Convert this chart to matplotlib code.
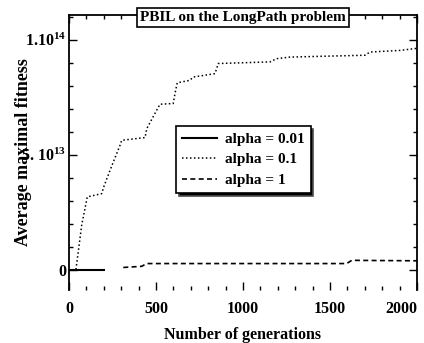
import matplotlib
matplotlib.use("Agg")
import matplotlib.pyplot as plt
from matplotlib.ticker import MultipleLocator, FixedLocator

plt.rcParams['font.family'] = ['Liberation Serif', 'DejaVu Serif']
plt.rcParams['font.weight'] = 'bold'
plt.rcParams['mathtext.default'] = 'regular'

# alpha = 0.01 (solid)
gen_a001 = [0, 199]
fit_a001 = [0.0, 0.0]

# alpha = 0.1 (dotted), values in units of 1e13
gen_a01 = [40, 73, 105, 188, 200, 236, 293, 303, 437, 447, 504, 523, 599, 609, 622,
           695, 713, 839, 858, 1155, 1193, 1270, 1701, 1730, 1902, 2000]
fit_a01 = [0.0, 1.93, 3.16, 3.3, 3.6, 4.32, 5.4, 5.62, 5.74, 6.13, 6.93, 7.19, 7.22, 7.65, 8.12,
           8.23, 8.37, 8.52, 8.96, 9.03, 9.17, 9.24, 9.32, 9.46, 9.53, 9.62]

# alpha = 1 (dashed), values in units of 1e13
gen_a1 = [312, 418, 446, 1596, 1625, 2000]
fit_a1 = [0.09, 0.14, 0.26, 0.26, 0.40, 0.38]

ytick_vals = [0, 5e13, 1e14]
ytick_labels = ['0', '5. 10$^{13}$', '1.10$^{14}$']
xtick_vals = [0, 500, 1000, 1500, 2000]

fig = plt.figure(figsize=(4.24, 3.43), dpi=100)
ax = fig.add_axes([69/424, 1-290/343, 348/424, 275/343])

scale = 1e13
ax.plot(gen_a001, [v*scale for v in fit_a001], color='black', lw=1.5, ls='-', label='alpha = 0.01')
ax.plot(gen_a01, [v*scale for v in fit_a01], color='black', lw=1.1, ls=(0, (1, 1.6)), label='alpha = 0.1')
ax.plot(gen_a1, [v*scale for v in fit_a1], color='black', lw=1.2, ls=(0, (3, 2)), label='alpha = 1')

ax.set_xlim(0, 2000)
ax.set_ylim(-0.89e13, 1.107e14)
ax.xaxis.set_major_locator(FixedLocator(xtick_vals))
ax.xaxis.set_minor_locator(MultipleLocator(100))
ax.yaxis.set_major_locator(FixedLocator(ytick_vals))
ax.yaxis.set_minor_locator(MultipleLocator(1e13))
ax.set_yticklabels(ytick_labels)
ax.set_xticklabels([str(v) for v in xtick_vals])
ax.tick_params(which='both', direction='in', top=True, right=True, labelsize=11.5, width=1.0)
ax.tick_params(which='major', length=6)
ax.tick_params(axis='x', which='major', pad=8)
ax.tick_params(axis='y', which='major', pad=2)
ax.tick_params(which='minor', length=3)
ax.get_xticklabels()[-1].set_horizontalalignment('right')
ax.get_xticklabels()[-1].set_x(2000)
ax.spines['bottom'].set_visible(False)
for s in ['left', 'right', 'top']:
    ax.spines[s].set_linewidth(1.3)

ax.set_xlabel('Number of generations', fontsize=11.5, fontweight='bold', labelpad=7)
ax.set_ylabel('Average maximal fitness', fontsize=13, fontweight='bold', labelpad=-8)

ax.text(0.5, 0.99, 'PBIL on the LongPath problem', transform=ax.transAxes,
        ha='center', va='center', fontsize=11, fontweight='bold',
        bbox=dict(boxstyle='square,pad=0.2', facecolor='white', edgecolor='black', lw=1.2))

leg = ax.legend(loc='upper left', bbox_to_anchor=(0.307, 0.596), fontsize=11,
                frameon=True, fancybox=False, framealpha=1, edgecolor='black',
                handlelength=2.3, handletextpad=0.5, borderpad=0.4, labelspacing=0.45,
                borderaxespad=0,
                shadow={'facecolor': 'black', 'alpha': 1.0})
leg.get_frame().set_linewidth(1.2)

fig.savefig('out.png', dpi=100)
